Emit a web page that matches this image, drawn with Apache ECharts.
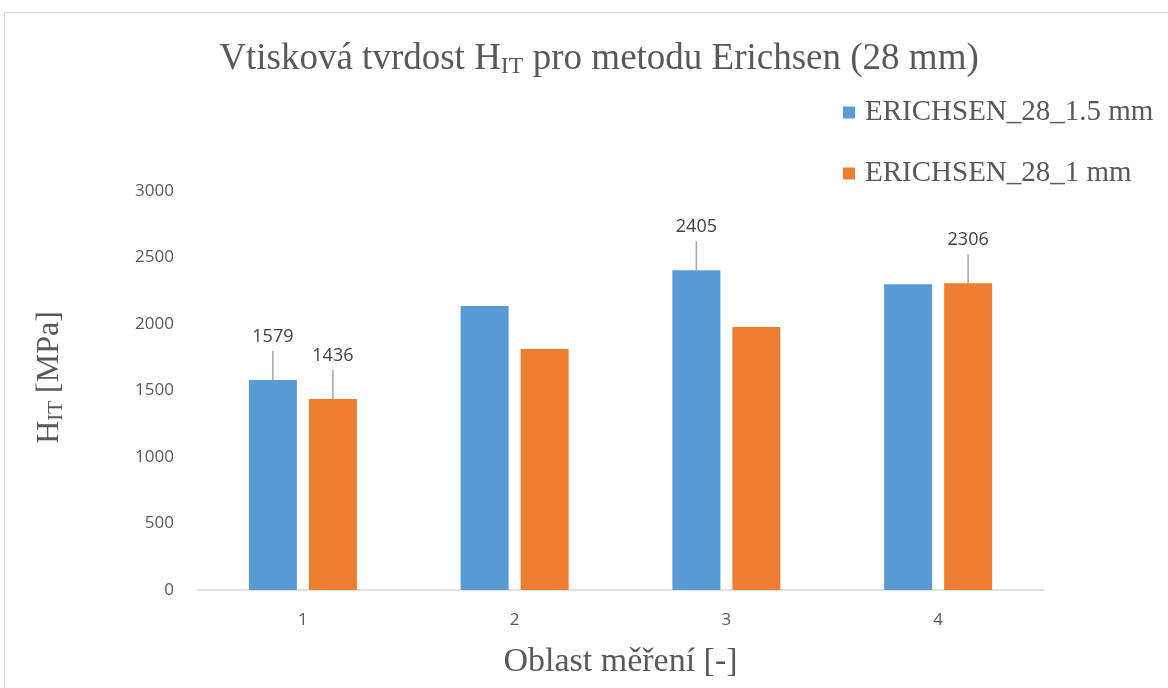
<!DOCTYPE html>
<html>
<head>
<meta charset="utf-8">
<script src="https://cdn.jsdelivr.net/npm/echarts@6/dist/echarts.min.js"></script>
<style>
  html, body { margin: 0; padding: 0; background: #fff; }
  #chart { width: 1168px; height: 688px; }
</style>
</head>
<body>
<div id="chart"></div>
<script>
// Measurement areas and hardness values (MPa)
const categories = ['1', '2', '3', '4'];
const seriesNames = ['ERICHSEN_28_1.5 mm', 'ERICHSEN_28_1 mm'];
const thick15 = [1579, 2135, 2405, 2298];
const thick10 = [1436, 1812, 1977, 2306];
// which points carry a value callout
const labelled15 = [true, false, true, false];
const labelled10 = [true, false, false, true];
const yTicks = { min: 0, max: 3000, interval: 500 };

const serif = '"Liberation Serif", "DejaVu Serif", serif';
const sans = '"Open Sans", "Liberation Sans", sans-serif';

const calloutLabel = {
  show: true,
  position: 'top',
  distance: 0,
  formatter: p => '{v|' + p.value + '}\n{l|}',
  rich: {
    v: { fontFamily: sans, fontSize: 18, color: '#404040', lineHeight: 28, align: 'center' },
    l: { width: 1.5, height: 29, backgroundColor: '#a6a6a6', align: 'center' }
  }
};

function buildData(values, flags) {
  return values.map((v, i) => flags[i] ? { value: v, label: calloutLabel } : v);
}

const chart = echarts.init(document.getElementById('chart'), null, { renderer: 'canvas' });
chart.setOption({
  backgroundColor: '#fff',
  animation: false,
  title: {
    text: 'Vtisková tvrdost H{sub|IT} pro metodu Erichsen (28 mm)',
    left: 594,
    top: 34,
    textAlign: 'center',
    textStyle: {
      fontFamily: serif, fontSize: 37, fontWeight: 'normal', color: '#595959',
      rich: {
        sub: { fontFamily: serif, fontSize: 24, color: '#595959', verticalAlign: 'bottom', padding: [16, 0, 0, 0] }
      }
    }
  },
  legend: {
    orient: 'vertical',
    left: 843,
    top: 98,
    padding: 0,
    itemWidth: 12,
    itemHeight: 12,
    itemGap: 32,
    icon: 'rect',
    textStyle: { fontFamily: serif, fontSize: 29, color: '#595959', padding: [0, 0, 0, 5] },
    data: seriesNames
  },
  grid: { left: 197, right: 124, top: 191, bottom: 98 },
  xAxis: {
    type: 'category',
    data: categories,
    name: 'Oblast měření [-]',
    nameLocation: 'middle',
    nameGap: 55,
    nameTextStyle: { fontFamily: serif, fontSize: 34, color: '#595959' },
    axisLine: { lineStyle: { color: '#d9d9d9', width: 1.5 } },
    axisTick: { show: false },
    axisLabel: { fontFamily: sans, fontSize: 17, color: '#595959', margin: 22 }
  },
  yAxis: {
    type: 'value',
    min: yTicks.min,
    max: yTicks.max,
    interval: yTicks.interval,
    name: 'H{sub|IT} [MPa]',
    nameLocation: 'middle',
    nameGap: 130,
    nameRotate: 90,
    nameTextStyle: {
      fontFamily: serif, fontSize: 32, color: '#595959', padding: [0, 0, 0, 26],
      rich: { sub: { fontFamily: serif, fontSize: 21, color: '#595959', verticalAlign: 'bottom', padding: [14, 0, 0, 0] } }
    },
    axisLine: { show: false },
    axisTick: { show: false },
    splitLine: { show: false },
    axisLabel: { fontFamily: sans, fontSize: 17, color: '#595959', margin: 23, formatter: v => String(v) }
  },
  series: [
    {
      name: seriesNames[0],
      type: 'bar',
      data: buildData(thick15, labelled15),
      barWidth: 48,
      barGap: '25%',
      itemStyle: { color: '#5b9bd5' }
    },
    {
      name: seriesNames[1],
      type: 'bar',
      data: buildData(thick10, labelled10),
      barWidth: 48,
      barGap: '25%',
      itemStyle: { color: '#ed7d31' }
    }
  ],
  graphic: [
    {
      type: 'rect',
      shape: { x: 4.5, y: 12.5, width: 1300, height: 800 },
      style: { fill: null, stroke: '#d9d9d9', lineWidth: 1 },
      silent: true
    }
  ]
});
</script>
</body>
</html>
